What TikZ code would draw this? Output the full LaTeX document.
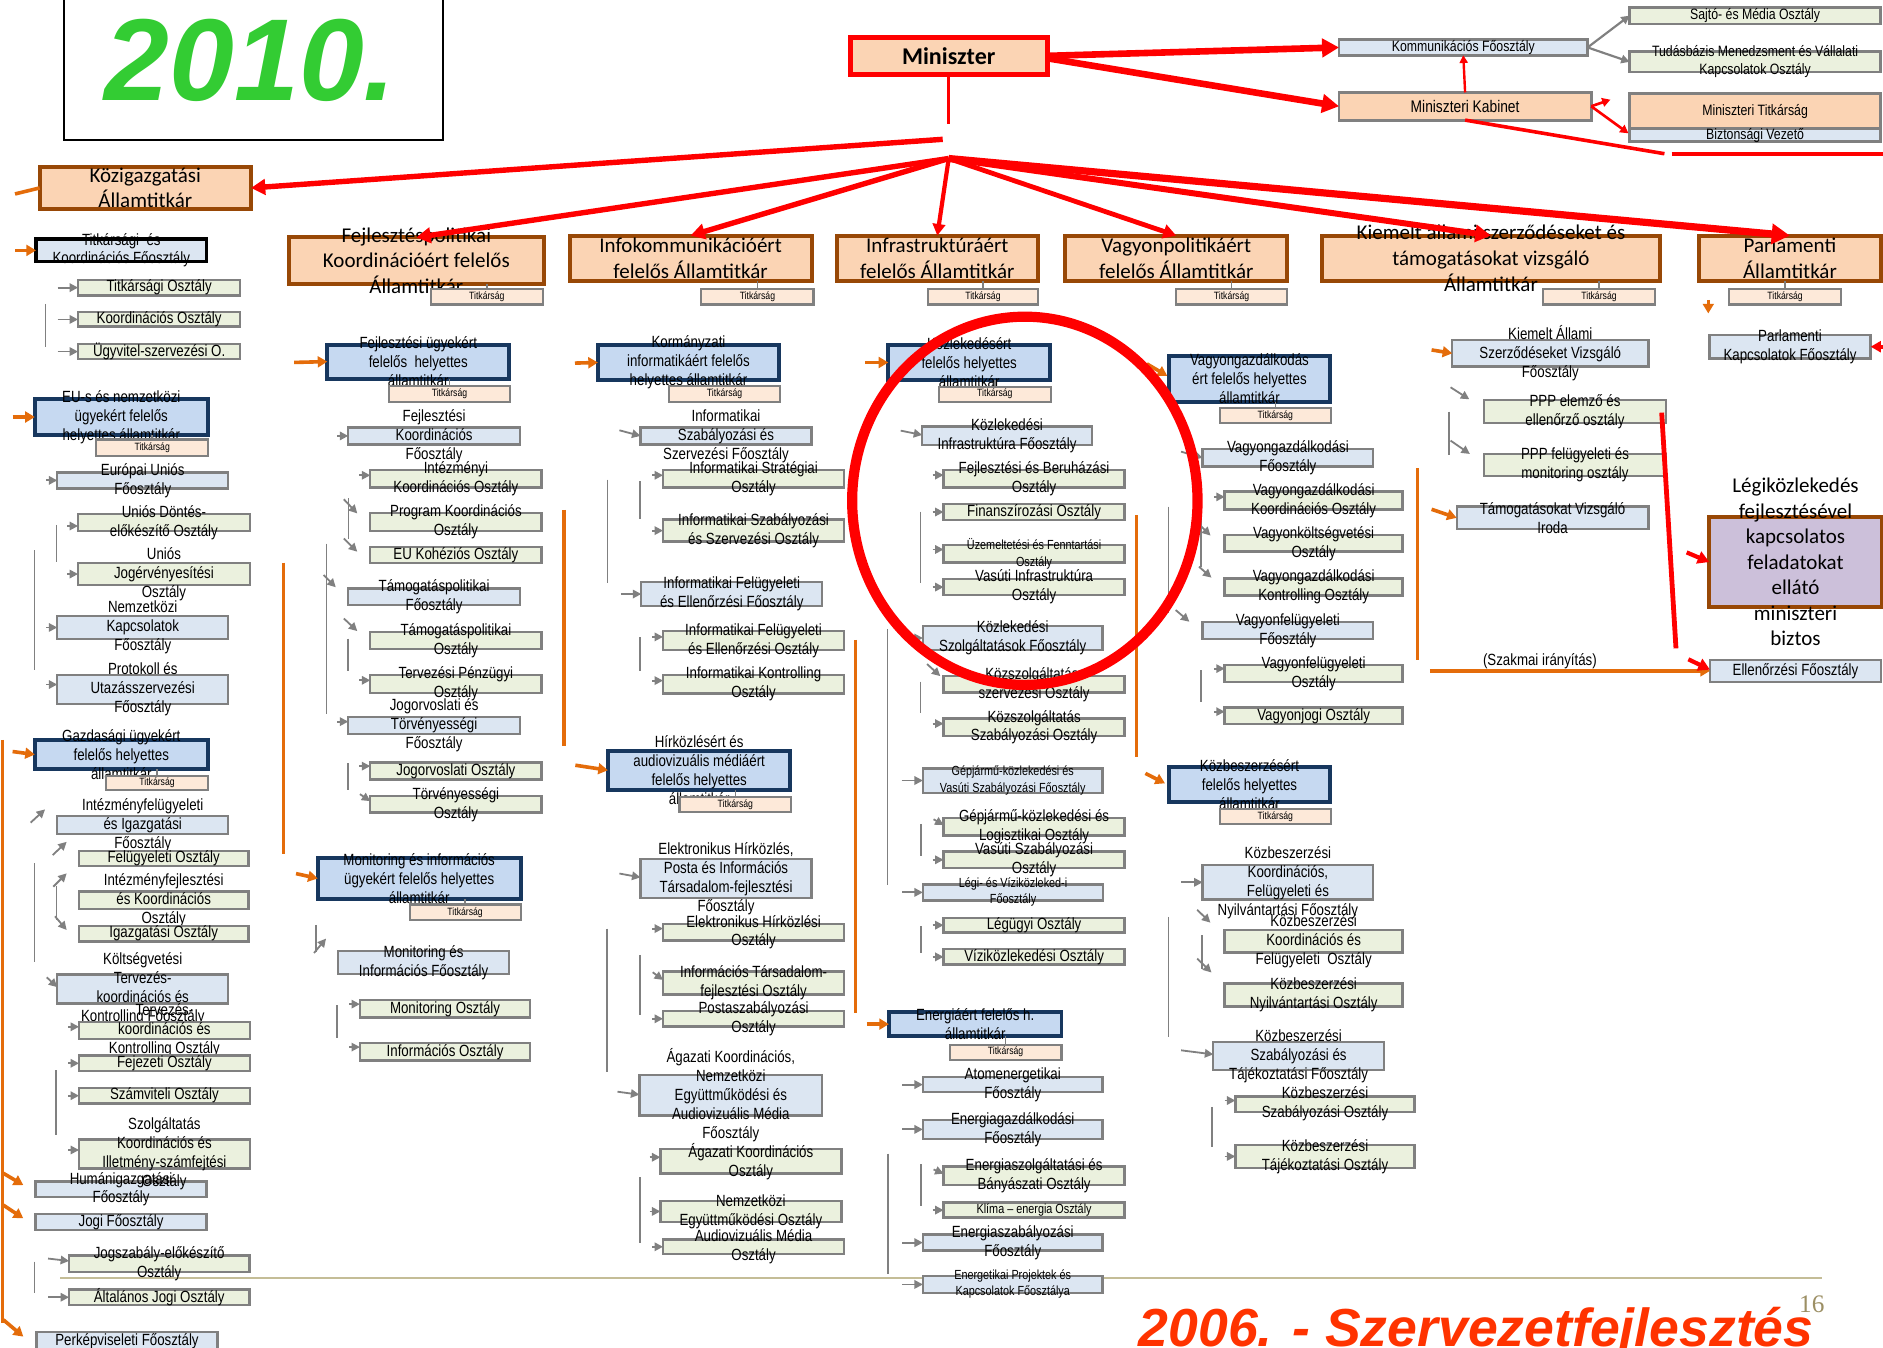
\documentclass[tikz,border=0pt]{standalone}
\usepackage{fontspec}
\setmainfont{Liberation Sans}
\newfontfamily\nar[FakeStretch=0.82]{Liberation Sans}
\newfontfamily\calib{Carlito}
\newfontfamily\serf{Liberation Serif}
\usetikzlibrary{arrows.meta,calc}
\definecolor{peach}{HTML}{FBD4B4}
\definecolor{brownb}{HTML}{984806}
\definecolor{navy}{HTML}{17375E}
\definecolor{hatf}{HTML}{C6D9F1}
\definecolor{fof}{HTML}{DCE6F2}
\definecolor{osf}{HTML}{EBF1DE}
\definecolor{tif}{HTML}{FDE9D9}
\definecolor{grb}{HTML}{808080}
\definecolor{ora}{HTML}{E46C0A}
\definecolor{grn}{HTML}{33CC33}
\definecolor{red6}{HTML}{FF3300}
\definecolor{purp}{HTML}{CCC0DA}
\definecolor{tanl}{HTML}{C4BD97}
\definecolor{num}{HTML}{9C8F64}
\tikzset{
 bx/.style={rectangle, inner sep=0pt, outer sep=0pt},
 fo/.style={bx, fill=fof, draw=grb, line width=2pt},
 fo2/.style={bx, fill=fof, draw=grb, line width=2.4pt},
 fob/.style={bx, fill=fof, draw=black, line width=2.6pt},
 os/.style={bx, fill=osf, draw=grb, line width=2pt},
 os2/.style={bx, fill=osf, draw=grb, line width=2.4pt},
 ti/.style={bx, fill=tif, draw=grb, line width=1.8pt},
 ha/.style={bx, fill=hatf, draw=navy, line width=3.3pt},
 asec/.style={bx, fill=peach, draw=brownb, line width=3.3pt},
 pk/.style={bx, fill=peach, draw=grb, line width=2.4pt},
 lg/.style={bx, fill=purp, draw=brownb, line width=3.3pt},
 mins/.style={bx, fill=peach, draw=red, line width=4pt},
 blk/.style={bx, draw=black, line width=1.8pt},
 tx/.style={inner sep=0pt, align=center, text=black, font=\nar\fontsize{13.5}{15.8}\selectfont},
 sm/.style={font=\nar\fontsize{11}{13.4}\selectfont},
 tt/.style={font=\nar\fontsize{8.8}{10}\selectfont},
 tr/.style={font=\nar\fontsize{12.5}{15}\selectfont},
 ct/.style={font=\calib\fontsize{17.5}{21}\selectfont},
 garr/.style={draw=grb, line width=1.5pt, -{Triangle[length=7pt,width=7pt]}},
 gln/.style={draw=grb, line width=1.4pt},
 oarr/.style={draw=ora, line width=3pt, -{Triangle[length=8pt,width=9pt]}},
 oln/.style={draw=ora, line width=3pt},
 rarr/.style={draw=red, line width=#1, -{Triangle[length=2pt 2.2,width=2pt 2.4]}},
 rln/.style={draw=red, line width=#1},
}
\newcommand\BXX[8]{%
 \node[#2, minimum width={(#5)-(#3)}, minimum height={(#6)-(#4)}] (#1) at ({((#3)+(#5))/2},{((#4)+(#6))/2}) {};
 \node[tx,#7] (#1-x) at (#1.center) {#8};}
\newcommand\ARR[6][garr]{\draw[#1] ($(#2.west)+(#3,#4)$) -- ($(#2.west)+(#5,#6)$);}
\begin{document}
\begin{tikzpicture}[x=1pt,y=-1pt]
\useasboundingbox (0,0) rectangle (1568,1122);
\clip (0,0) rectangle (1568,1122);
\fill[white] (0,0) rectangle (1568,1122);

% bracket lines
\foreach \x/\a/\b in {38/253/289, 47/437/468, 28.6/458/558, 28.6/719/801, 47/738/766, 46.6/891/945, 28.6/1050.6/1077,
 290.1/414.8/449, 272/452.6/594.7, 290/531.7/558.5, 290/635.5/657.5, 280.9/837/864.5,
 505.9/399.4/485.3, 532.7/400.8/432.1, 532.7/530.8/558.5, 505.3/773.2/892.5, 532.7/795.1/845, 532.7/980.5/1035.3,
 766.4/426/485.8, 739/524/737, 766.4/567.6/594, 766.7/686/712.6, 766.7/771.2/793.9, 739.6/960.7/1060.9, 766.7/969.5/1004.3,
 973.1/421.9/510.8, 999.9/427.5/471.9, 999.9/558/584.3, 973.1/763.4/863.5, 1000.8/778.8/807, 1009.4/921.6/955,
 1206.8/342.8/378.9}
 {\draw[gln] (\x,\a) -- (\x,\b);}
\foreach \x/\a/\b in {2/616/1102, 236/468.4/711.3, 469.6/424.6/621, 712.4/532.9/843.5, 946.3/428.9/630.1, 1180.2/390/549.6}
 {\draw[oln] (\x,\a) -- (\x,\b);}
\draw[tanl, line width=1.5pt] (50,1064.5) -- (1517,1064.5);

% top
\BXX{yb}{blk}{53.6}{-10}{369}{116.6}{}{}
\BXX{min}{mins}{708}{31}{872}{62}{font=\calib\bfseries\fontsize{20}{22}\selectfont}{Miniszter}
\BXX{kom}{fo2}{1115}{33}{1322}{46}{tr}{Kommunikációs Főosztály}
\BXX{kab}{pk}{1115}{77}{1325}{100}{font=\nar\fontsize{14}{16}\selectfont}{Miniszteri Kabinet}
\BXX{saj}{os2}{1357}{6}{1566}{20}{tr}{Sajtó- és Média Osztály}
\BXX{tud}{os2}{1357}{43}{1566}{60}{tr}{Tudásbázis Menedzsment és Vállalati\\Kapcsolatok Osztály}
\BXX{mtk}{pk}{1357}{78}{1566}{107}{tr}{Miniszteri Titkárság}
\BXX{biz}{fo2}{1357}{107}{1566}{118}{tr}{Biztonsági Vezető}

% state secretaries
\BXX{kg}{asec}{33}{139}{209}{174}{ct}{Közigazgatási\\Államtitkár}
\BXX{fp}{asec}{240.7}{197.7}{452.7}{236.4}{ct}{Fejlesztéspolitikai\\Koordinációért felelős\\Államtitkár}
\BXX{fpt}{ti}{358.7}{240.3}{452}{253.6}{tt}{Titkárság}
\BXX{ik}{asec}{474.3}{196.2}{675.8}{234}{ct}{Infokommunikációért\\felelős Államtitkár}
\BXX{ikt}{ti}{584}{240.3}{677.4}{253.6}{tt}{Titkárság}
\BXX{inf}{asec}{697}{196.2}{864}{234}{ct}{Infrastruktúráért\\felelős Államtitkár}
\BXX{inft}{ti}{773}{240.3}{864}{253.6}{tt}{Titkárság}
\BXX{vp}{asec}{887}{196.2}{1072}{234}{ct}{Vagyonpolitikáért\\felelős Államtitkár}
\BXX{vpt}{ti}{979}{240.3}{1072}{253.6}{tt}{Titkárság}
\BXX{ki}{asec}{1101}{196.2}{1382}{234}{font=\calib\fontsize{17.5}{21.7}\selectfont}{Kiemelt állami szerződéseket és\\támogatásokat vizsgáló\\Államtitkár}
\BXX{kit}{ti}{1285}{240.3}{1378}{253.6}{tt}{Titkárság}
\BXX{pa}{asec}{1415}{196.2}{1566}{234}{ct}{Parlamenti\\Államtitkár}
\BXX{pat}{ti}{1440}{240.3}{1533}{253.6}{tt}{Titkárság}

% column 1
\BXX{tkf}{fob}{30}{199}{172}{218}{font=\nar\fontsize{13.5}{15.5}\selectfont}{Titkársági~~és\\Koordinációs Főosztály}
\BXX{c1a}{os}{65}{233}{200}{246}{}{Titkársági Osztály}
\BXX{c1b}{os}{65}{260}{200}{272}{}{Koordinációs Osztály}
\BXX{c1c}{os}{65}{286.5}{200}{299}{}{Ügyvitel-szervezési O.}
\BXX{eu}{ha}{29}{332.5}{173}{362}{}{EU-s és nemzetközi\\ügyekért felelős\\helyettes államtitkár}
\BXX{eut}{ti}{80}{366}{173.5}{379.5}{tt}{Titkárság}
\BXX{c1eu}{fo}{47.7}{393.3}{190}{406.7}{}{Európai Uniós\\Főosztály}
\BXX{c1ud}{os}{65}{428}{208}{442}{}{Uniós Döntés-\\előkészítő Osztály}
\BXX{c1uj}{os}{65}{469}{208}{487}{}{Uniós\\Jogérvényesítési\\Osztály}
\BXX{c1nk}{fo}{47.7}{513}{190}{532}{}{Nemzetközi\\Kapcsolatok\\Főosztály}
\BXX{c1pu}{fo}{47.7}{562}{190}{586}{}{Protokoll és\\Utazásszervezési\\Főosztály}
\BXX{gz}{ha}{29}{616}{173}{640.6}{}{Gazdasági ügyekért\\felelős helyettes\\államtitkár}
\BXX{gzt}{ti}{88}{646}{173.5}{658}{tt}{Titkárság}
\BXX{c1if}{fo}{47.7}{679.5}{190}{694.5}{}{Intézményfelügyeleti\\és Igazgatási\\Főosztály}
\BXX{c1fo}{os}{65.8}{708.4}{206.8}{721.2}{}{Felügyeleti Osztály}
\BXX{c1ik}{os}{65.8}{742.5}{206.8}{757}{}{Intézményfejlesztési\\és Koordinációs\\Osztály}
\BXX{c1ig}{os}{65.8}{771}{206.8}{784}{}{Igazgatási Osztály}
\BXX{c1kt}{fo}{47.7}{811.3}{190}{835.5}{}{Költségvetési\\Tervezés-\\koordinációs és\\Kontrolling Főosztály}
\BXX{c1tk}{os}{65.8}{850.8}{208}{865.2}{}{Tervezés-\\koordinációs és\\Kontrolling Osztály}
\BXX{c1fe}{os}{65.8}{879}{208}{891.8}{}{Fejezeti Osztály}
\BXX{c1sz}{os}{65.8}{906}{208}{918.8}{}{Számviteli Osztály}
\BXX{c1hum}{fo}{29.7}{984}{172}{996.5}{}{Humánigazgatási\\Főosztály}
\BXX{c1szk}{os}{65.8}{949}{208}{973}{}{Szolgáltatás\\Koordinációs és\\Illetmény-számfejtési\\Osztály}
\BXX{c1jo}{fo}{29.7}{1011}{172}{1024}{}{Jogi Főosztály}
\BXX{c1jsz}{os}{57.5}{1045.6}{207.6}{1059}{}{Jogszabály-előkészítő\\Osztály}
\BXX{c1alt}{os}{57.5}{1073.7}{207.6}{1086.7}{}{Általános Jogi Osztály}
\BXX{c1pk}{fo}{30.5}{1109}{181}{1124}{}{Perképviseleti Főosztály}

% column 2
\BXX{fph}{ha}{272.6}{287}{424}{315.2}{}{Fejlesztési ügyekért\\felelős~~helyettes\\államtitkár}
\BXX{fpht}{ti}{323.6}{321.7}{425}{334.5}{tt}{Titkárság}
\BXX{c2fk}{fo}{290}{356}{433}{370}{}{Fejlesztési\\Koordinációs\\Főosztály}
\BXX{c2ik}{os}{308.3}{391.6}{451}{405.9}{}{Intézményi\\Koordinációs Osztály}
\BXX{c2pk}{os}{308.3}{427.3}{451}{442.2}{}{Program Koordinációs\\Osztály}
\BXX{c2eu}{os}{308.3}{455.6}{451}{469}{}{EU Kohéziós Osztály}
\BXX{c2tf}{fo}{290}{490}{433}{504}{}{Támogatáspolitikai\\Főosztály}
\BXX{c2to}{os}{308.3}{526.4}{451}{540.3}{}{Támogatáspolitikai\\Osztály}
\BXX{c2tp}{os}{308.3}{562}{451}{577}{}{Tervezési Pénzügyi\\Osztály}
\BXX{c2jt}{fo}{290}{596.8}{433}{611}{}{Jogorvoslati és\\Törvényességi\\Főosztály}
\BXX{c2jo}{os}{308.3}{634.9}{451}{649}{}{Jogorvoslati Osztály}
\BXX{c2tv}{os}{308.3}{663}{451}{676.5}{}{Törvényességi\\Osztály}
\BXX{mon}{ha}{264.6}{714.5}{433.5}{748.4}{}{Monitoring és információs\\ügyekért felelős helyettes\\államtitkár}
\BXX{mont}{ti}{341.1}{753.2}{433.5}{766.1}{tt}{Titkárság}
\BXX{c2mi}{fo}{281.5}{791.9}{424}{811.2}{}{Monitoring és\\Információs Főosztály}
\BXX{c2mo}{os}{299.7}{832.9}{441.5}{847.4}{}{Monitoring Osztály}
\BXX{c2in}{os}{299.7}{868.6}{441.5}{883.2}{}{Információs Osztály}

% column 3
\BXX{kor}{ha}{497.9}{287}{648.7}{316.7}{}{Kormányzati\\informatikáért felelős\\helyettes államtitkár}
\BXX{kort}{ti}{557.2}{321.7}{649.6}{334.5}{tt}{Titkárság}
\BXX{c3isz}{fo}{533.3}{356}{675.8}{370}{}{Informatikai\\Szabályozási és\\Szervezési Főosztály}
\BXX{c3st}{os}{552.1}{391.6}{702.9}{405.9}{}{Informatikai Stratégiai\\Osztály}
\BXX{c3iso}{os}{552.1}{432.7}{702.9}{451}{}{Informatikai Szabályozási\\és Szervezési Osztály}
\BXX{c3iff}{fo}{534}{484.7}{684.7}{504.6}{}{Informatikai Felügyeleti\\és Ellenőrzési Főosztály}
\BXX{c3ifo}{os}{552.1}{525.5}{702.9}{541.2}{}{Informatikai Felügyeleti\\és Ellenőrzési Osztály}
\BXX{c3ko}{os}{552.1}{562}{702.9}{577.5}{}{Informatikai Kontrolling\\Osztály}
\BXX{hir}{ha}{506.2}{625.2}{658.2}{657.5}{}{Hírközlésért és\\audiovizuális médiáért\\felelős helyettes\\államtitkár}
\BXX{hirt}{ti}{565.8}{663.9}{658.9}{676.5}{tt}{Titkárság}
\BXX{c3eh}{fo}{533.3}{715.5}{675.8}{747.7}{}{Elektronikus Hírközlés,\\Posta és Információs\\Társadalom-fejlesztési\\Főosztály}
\BXX{c3eho}{os}{552.1}{769.3}{702.9}{783.2}{}{Elektronikus Hírközlési\\Osztály}
\BXX{c3it}{os}{552.1}{809}{702.9}{828}{}{Információs Társadalom-\\fejlesztési Osztály}
\BXX{c3po}{os}{552.1}{841.9}{702.9}{854.8}{}{Postaszabályozási\\Osztály}
\BXX{c3ag}{fo}{532.4}{895.1}{684.7}{929}{}{Ágazati Koordinációs,\\Nemzetközi\\Együttműködési és\\Audiovizuális Média\\Főosztály}
\BXX{c3ago}{os}{549.9}{957}{700.6}{977.3}{}{Ágazati Koordinációs\\Osztály}
\BXX{c3ne}{os}{549.9}{999.9}{700.6}{1017.6}{}{Nemzetközi\\Együttműködési Osztály}
\BXX{c3av}{os}{552.1}{1032.1}{702.9}{1044.3}{}{Audiovizuális Média\\Osztály}

% column 4
\BXX{koz}{ha}{739.7}{287.3}{874.4}{316.4}{}{Közlekedésért\\felelős helyettes\\államtitkár}
\BXX{kozt}{ti}{781.9}{322}{875}{334.5}{tt}{Titkárság}
\BXX{c4ki}{fo}{767.9}{355.3}{909.2}{370.6}{}{Közlekedési\\Infrastruktúra Főosztály}
\BXX{c4fb}{os}{785.7}{391.4}{936.5}{405.8}{}{Fejlesztési és Beruházási\\Osztály}
\BXX{c4fi}{os}{785.7}{419.7}{936.5}{433}{}{Finanszírozási Osztály}
\BXX{c4uf}{os}{785.7}{453.8}{936.5}{468.3}{font=\nar\fontsize{11}{13.9}\selectfont}{Üzemeltetési és Fenntartási\\Osztály}
\BXX{c4vi}{os}{785.7}{482.2}{936.5}{495.5}{}{Vasúti Infrastruktúra\\Osztály}
\BXX{c4ksz}{fo}{768.5}{521.3}{918.1}{541.3}{}{Közlekedési\\Szolgáltatások Főosztály}
\BXX{c4kszo}{os}{785.7}{563}{936.5}{576.8}{}{Közszolgáltatás-\\szervezési Osztály}
\BXX{c4kss}{os}{785.7}{598.2}{936.5}{612.9}{}{Közszolgáltatás\\Szabályozási Osztály}
\BXX{c4gv}{fo}{768.5}{639.8}{918.1}{660.1}{sm}{Gépjármű-közlekedési és\\Vasúti Szabályozási Főosztály}
\BXX{c4gl}{os}{785.7}{681.3}{936.5}{695.8}{}{Gépjármű-közlekedési és\\Logisztikai Osztály}
\BXX{c4vs}{os}{785.7}{709.1}{936.5}{722.8}{}{Vasúti Szabályozási\\Osztály}
\BXX{c4lv}{fo}{768.5}{736.4}{918.7}{749.8}{sm}{Légi- és Víziközleked-i\\Főosztály}
\BXX{c4lo}{os}{785.7}{764.3}{936.5}{776.5}{}{Légügyi Osztály}
\BXX{c4vo}{os}{785.7}{790.4}{936.5}{803.2}{}{Víziközlekedési Osztály}
\BXX{en}{ha}{740.2}{842.6}{883.9}{863}{}{Energiáért felelős h.\\államtitkár}
\BXX{ent}{ti}{790.8}{869.9}{883.9}{882.4}{tt}{Titkárság}
\BXX{c4at}{fo}{768.5}{896.9}{918.1}{909.4}{}{Atomenergetikai\\Főosztály}
\BXX{c4eg}{fo}{768.5}{932.6}{918.1}{948.3}{}{Energiagazdálkodási\\Főosztály}
\BXX{c4esz}{os}{785.7}{971.5}{936.5}{986.9}{}{Energiaszolgáltatási és\\Bányászati Osztály}
\BXX{c4kl}{os}{785.7}{1001.4}{936.5}{1013.9}{sm}{Klíma – energia Osztály}
\BXX{c4esf}{fo}{768.5}{1028.1}{918.1}{1041.4}{}{Energiaszabályozási\\Főosztály}
\BXX{c4ep}{fo}{768.5}{1062.3}{918.1}{1076.8}{sm}{Energetikai Projektek és\\Kapcsolatok Főosztálya}

% column 5
\BXX{vg}{ha}{973.1}{296.4}{1107.8}{334.5}{}{Vagyongazdálkodás\\ért felelős helyettes\\államtitkár}
\BXX{vgt}{ti}{1015.6}{340}{1108.4}{352.5}{tt}{Titkárság}
\BXX{c5vf}{fo}{1001.4}{373.9}{1143.5}{388.6}{}{Vagyongazdálkodási\\Főosztály}
\BXX{c5vk}{os}{1019.8}{409.4}{1168}{424.1}{}{Vagyongazdálkodási\\Koordinációs Osztály}
\BXX{c5vko}{os}{1019.8}{445.5}{1168}{459.4}{}{Vagyonköltségvetési\\Osztály}
\BXX{c5vkn}{os}{1019.8}{481.6}{1168}{496}{}{Vagyongazdálkodási\\Kontrolling Osztály}
\BXX{c5vff}{fo}{1001.4}{517.7}{1143.5}{532.1}{}{Vagyonfelügyeleti\\Főosztály}
\BXX{c5vfo}{os}{1019.8}{553.8}{1168}{567.7}{}{Vagyonfelügyeleti\\Osztály}
\BXX{c5vj}{os}{1019.8}{589}{1168}{603}{}{Vagyonjogi Osztály}
\BXX{kb}{ha}{973.1}{638.4}{1107.8}{667.6}{}{Közbeszerzésért\\felelős helyettes\\államtitkár}
\BXX{kbt}{ti}{1015.6}{673.5}{1108.4}{685.9}{tt}{Titkárság}
\BXX{c5kk}{fo}{1001.4}{720.5}{1143.5}{748.9}{}{Közbeszerzési\\Koordinációs,\\Felügyeleti és\\Nyilvántartási Főosztály}
\BXX{c5kko}{os}{1019.8}{774.2}{1168}{793}{}{Közbeszerzési\\Koordinációs és\\Felügyeleti~~Osztály}
\BXX{c5kny}{os}{1019.8}{819.1}{1168}{838}{}{Közbeszerzési\\Nyilvántartási Osztály}
\BXX{c5ksz}{fo}{1010.3}{867.9}{1152.4}{891.1}{}{Közbeszerzési\\Szabályozási és\\Tájékoztatási Főosztály}
\BXX{c5kszo}{os}{1028.7}{912.9}{1178}{925.9}{}{Közbeszerzési\\Szabályozási Osztály}
\BXX{c5kto}{os}{1028.7}{953.5}{1178}{972.4}{}{Közbeszerzési\\Tájékoztatási Osztály}

% column 6
\BXX{c6ka}{fo}{1209.3}{283.1}{1372.6}{305.3}{}{Kiemelt Állami\\Szerződéseket Vizsgáló\\Főosztály}
\BXX{c6p1}{os}{1235.7}{333.1}{1387.3}{352}{}{PPP elemző és\\ellenőrző osztály}
\BXX{c6p2}{os}{1235.7}{378}{1387.3}{396.4}{}{PPP felügyeleti és\\monitoring osztály}
\BXX{c6tv}{fo}{1213}{421.9}{1372.6}{440.5}{}{Támogatásokat Vizsgáló\\Iroda}
\BXX{leg}{lg}{1423.4}{430.8}{1566.9}{505.2}{font=\calib\fontsize{17.5}{21.2}\selectfont}{Légiközlekedés\\fejlesztésével\\kapcsolatos\\feladatokat\\ellátó\\miniszteri\\biztos}
\BXX{ell}{fo}{1423.9}{549.6}{1566.3}{567.7}{}{Ellenőrzési Főosztály}
\BXX{c6pk}{fo}{1423.4}{279}{1557.7}{298.4}{}{Parlamenti\\Kapcsolatok Főosztály}
\node[tx] (szak) at (1282.3,551) {(Szakmai irányítás)};

% titkarsag connectors
\foreach \t/\p in {fpt/fp, ikt/ik, inft/inf, vpt/vp, kit/ki, pat/pa, eut/eu, gzt/gz, fpht/fph, kort/kor, hirt/hir, kozt/koz, ent/en, vgt/vg, kbt/kb, mont/mon}
 {\draw[gln] (\t.north) -- (\t.north |- \p.south);}

% gray arrows column 1
\ARR{c1a}{-17}{0}{0}{0}
\ARR{c1b}{-17}{0}{0}{0}
\ARR{c1c}{-17}{0}{0}{0}
\ARR{c1eu}{-9}{0}{0}{0}
\ARR{c1ud}{-9}{3}{0}{3}
\ARR{c1uj}{-9}{0}{0}{0}
\ARR{c1nk}{-9}{0}{0}{0}
\ARR{c1pu}{-9}{-4}{0}{-4}
\ARR{c1if}{-22.2}{-2}{-10.2}{-13}
\ARR{c1fo}{-21.9}{-2.8}{-10.3}{-13.8}
\ARR{c1ik}{-21.4}{-11.4}{-10.3}{-22.5}
\ARR{c1ig}{-20}{-14.5}{-10.3}{-3.1}
\ARR{c1kt}{-8.8}{-9.6}{0}{-1.4}
\ARR{c1tk}{-9}{-3}{0}{-3}
\ARR{c1fe}{-9}{0}{0}{0}
\ARR{c1sz}{-9}{0}{0}{0}
\ARR{c1szk}{-9}{-3.4}{0}{-3.4}
\ARR{c1jsz}{-17.5}{-4.3}{0}{-2.3}
\ARR{c1alt}{-17.5}{0}{0}{0}
% column 2
\ARR{c2fk}{-9}{0}{0}{0}
\ARR{c2ik}{-9}{-3}{0}{-3}
\ARR{c2pk}{-22}{-19}{-10.8}{-7.2}
\ARR{c2eu}{-22}{-13.9}{-10.8}{-2.9}
\ARR{c2tf}{-20.6}{-18.2}{-10.4}{-8}
\ARR{c2to}{-22}{-18.35}{-10.8}{-7.85}
\ARR{c2tp}{-9}{-3}{0}{-3}
\ARR{c2jt}{-9}{-3}{0}{-3}
\ARR{c2jo}{-9}{-4}{0}{-4}
\ARR{c2tv}{-8.6}{-8.45}{0}{-2.65}
\ARR{c2mo}{-9}{-4}{0}{-4}
\ARR{c2in}{-9}{-4}{0}{-4}
\draw[gln] ($(c2mi.west)+(-18.5,-31.5)$) -- ($(c2mi.west)+(-18.5,-9)$);
\ARR{c2mi}{-20}{-8}{-10}{-20}
% column 3
\ARR{c3isz}{-17.5}{-4.7}{0}{0}
\ARR{c3st}{-9}{-3}{0}{-3}
\ARR{c3iso}{-9}{0}{0}{0}
\ARR{c3iff}{-17}{0}{0}{0}
\ARR{c3ifo}{-9}{-3}{0}{-3}
\ARR{c3ko}{-9}{-3}{0}{-3}
\ARR{c3eh}{-17.5}{-4.2}{0}{-1}
\ARR{c3eho}{-9}{-3}{0}{-3}
\ARR{c3it}{-8.6}{-8.9}{0}{-2.5}
\ARR{c3po}{-9}{0}{0}{0}
\ARR{c3ag}{-18.2}{-3}{0}{-0.5}
\ARR{c3ago}{-9}{-3.5}{0}{-3.5}
\ARR{c3ne}{-9}{0}{0}{0}
\ARR{c3av}{-9}{0}{0}{0}
% column 4
\ARR{c4ki}{-17.9}{-4.35}{0}{-0.75}
\ARR{c4fb}{-9}{-3}{0}{-3}
\ARR{c4fi}{-9}{0}{0}{0}
\ARR{c4uf}{-9}{-3.5}{0}{-3.5}
\ARR{c4vi}{-9}{0}{0}{0}
\ARR{c4ksz}{-11}{0}{0}{0}
\ARR{c4kszo}{-13.7}{-16.9}{-2.7}{-6.9}
\ARR{c4kss}{-9}{-3}{0}{-3}
\ARR{c4gv}{-17.8}{0}{0}{0}
\ARR{c4gl}{-8.3}{-6.35}{0}{-1.5}
\ARR{c4vs}{-9}{0}{0}{0}
\ARR{c4lv}{-17}{0}{0}{0}
\ARR{c4lo}{-9}{0}{0}{0}
\ARR{c4vo}{-9}{0}{0}{0}
\ARR{c4at}{-17}{0}{0}{0}
\ARR{c4eg}{-17}{0}{0}{0}
\ARR{c4esz}{-8.3}{-5.4}{0}{-1.9}
\ARR{c4kl}{-9}{0}{0}{0}
\ARR{c4esf}{-17}{0}{0}{0}
\ARR{c4ep}{-17}{0}{0}{0}
% column 5
\ARR{c5vf}{-17.9}{-5.15}{0}{0}
\ARR{c5vk}{-9}{-3}{0}{-3}
\ARR{c5vko}{-21.8}{-16.45}{-11.8}{-6.45}
\ARR{c5vkn}{-21.4}{-16.9}{-11}{-7.8}
\ARR{c5vff}{-22.4}{-16.9}{-11}{-7.2}
\ARR{c5vfo}{-9}{-4}{0}{-4}
\ARR{c5vj}{-9}{-3.4}{0}{-3.4}
\ARR{c5kk}{-17.9}{0}{0}{0}
\ARR{c5kko}{-22.9}{-26}{-11.9}{-15.3}
\ARR{c5kny}{-22.9}{-30.35}{-11}{-18.75}
\ARR{c5ksz}{-26.8}{-4.9}{0}{-1.5}
\ARR{c5kszo}{-9}{-3}{0}{-3}
\ARR{c5kto}{-9}{0}{0}{0}
% column 6
\ARR{c6p1}{-27.8}{-20.05}{-12.2}{-10.05}
\ARR{c6p2}{-27.8}{-20.3}{-11.7}{-9.2}

% orange arrows
\draw[oln] ($(kg.west)+(-20.5,5)$) -- (kg.west);
\ARR[oarr]{tkf}{-17.5}{0}{0}{0}
\ARR[oarr]{eu}{-18.5}{0}{0}{0}
\ARR[oarr]{gz}{-18.5}{-2.5}{0}{0}
\ARR[oarr]{c1hum}{-26.9}{-13.25}{-10.3}{-3.45}
\ARR[oarr]{c1jo}{-26.9}{-14}{-10.3}{-3}
\ARR[oarr]{c1pk}{-27.7}{-17.5}{-11.1}{-3.5}
\ARR[oarr]{fph}{-27.7}{0.7}{0}{0}
\ARR[oarr]{mon}{-18.1}{-4}{0}{0}
\ARR[oarr]{kor}{-19.1}{0.5}{0}{0}
\ARR[oarr]{hir}{-27.1}{-4.15}{0}{0}
\ARR[oarr]{koz}{-19.4}{0}{0}{0}
\ARR[oarr]{en}{-18.4}{0}{0}{0}
\ARR[oarr]{vg}{-18.1}{-12.45}{-1.1}{-2.45}
\ARR[oarr]{kb}{-19.3}{-9}{-3}{-0.7}
\ARR[oarr]{c6ka}{-17.2}{-2.8}{0}{0}
\ARR[oarr]{c6tv}{-20.9}{-7.1}{0}{0}
\ARR[oarr]{ell}{-233.2}{0}{0}{0}
\draw[oarr, line width=2.5pt] ($(pa.south)+(-68,15.8)$) -- ($(pa.south)+(-68,27)$);

% top connectors
\draw[garr, line width=1.8pt] (kom.east) -- (saj.west);
\draw[garr, line width=1.8pt] (kom.east) -- (tud.west);
\coordinate (mv) at (790,103);
\coordinate (kgs) at (785,116);
\coordinate (fan) at (790,132);
\coordinate (kb1) at (1386,128);
\coordinate (kb2) at (1392,128);
\coordinate (kb3) at (1570,128);
\coordinate (rl1) at (1383.7,343.6);
\coordinate (rl2) at (1395.6,539.9);
\draw[rln=2.5pt] (min.south) -- (mv);
\draw[rarr=4.5pt] (kgs) -- (kg.east);
\draw[rarr=4.5pt] (fan) -- (fp.north);
\draw[rarr=4.5pt] (fan) -- (ik.north);
\draw[rarr=3.5pt] (fan) -- (inf.north);
\draw[rarr=4pt] (fan) -- (vp.north);
\draw[rarr=5pt] (fan) -- (ki.north);
\draw[rarr=6pt] (fan) -- (pa.north);
\draw[rarr=5.5pt] (min.east) -- (kom.west);
\draw[rarr=5.5pt] ($(min.east)+(0,2)$) -- (kab.west);
\draw[rarr=2pt] (kab.north) -- (kom.south);
\draw[rarr=2.2pt] (kab.east) -- ($(mtk.west)+(-16,-9.5)$);
\draw[rarr=2.2pt] (kab.east) -- ($(biz.west)+(-1,-1.5)$);
\draw[rln=3pt] (kab.south) -- (kb1);
\draw[rln=3pt] (kb2) -- (kb3);
\draw[rln=4pt] (rl1) -- (rl2);
\ARR[rarr=3.5pt]{leg}{-18.9}{-8}{0}{0}
\ARR[rarr=3.5pt]{ell}{-18}{-9.65}{0}{-1}
\draw[rarr=3pt] ($(c6pk.east)+(12,0)$) -- (c6pk.east);

% red ellipse
\draw[red, line width=8.5pt] (853.4,417) ellipse [x radius=143.8pt, y radius=153.3pt];

% titles
\node[anchor=base west, inner sep=0pt, text=grn, font=\fontsize{97}{97}\selectfont\bfseries\itshape] (y2010) at (87,83.5) {2010.};
\node[anchor=base west, inner sep=0pt, text=red6, font=\fontsize{44.6}{44.6}\selectfont\bfseries\itshape] (y2006) at (948,1121) {2006. - Szervezetfejlesztés};
\node[anchor=base west, inner sep=0pt, text=num, font=\serf\fontsize{21}{21}\selectfont] (pnum) at (1498,1093) {16};
\end{tikzpicture}
\end{document}
